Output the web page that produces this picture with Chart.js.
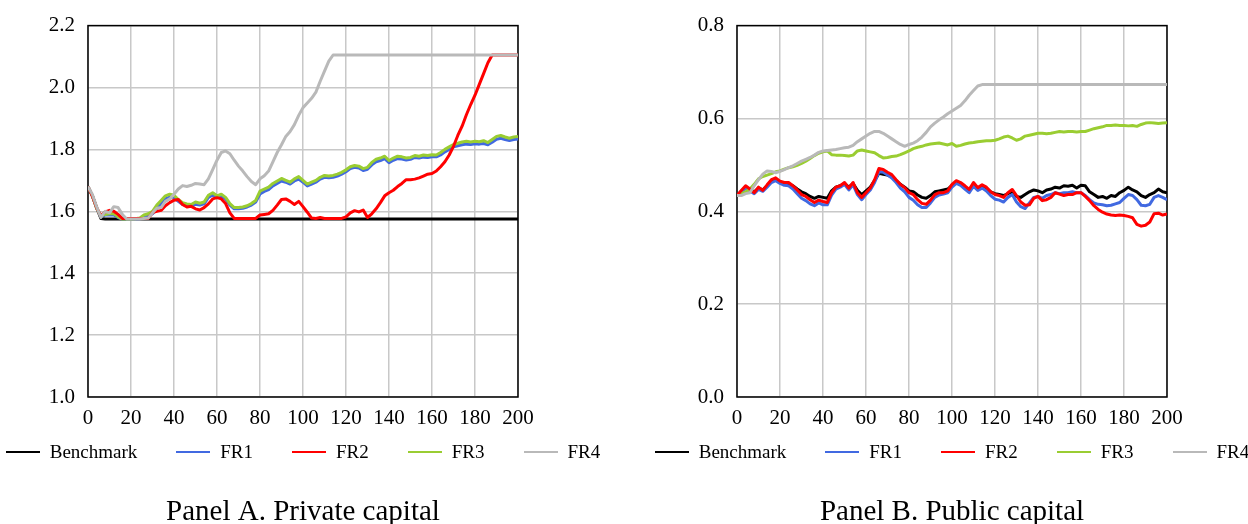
<!DOCTYPE html>
<html>
<head>
<meta charset="utf-8">
<title>Private and public capital</title>
<script src="https://cdn.jsdelivr.net/npm/chart.js@4.4.1/dist/chart.umd.min.js"></script>
<style>
    body { margin: 0; background: #fff; overflow: hidden; }
    .panel { position: absolute; top: 0; width: 624px; height: 524px; }
    #panelA { left: 0; }
    #panelB { left: 624px; }
    .legend {
        position: absolute; top: 441px; left: 0; margin: 0; padding: 0;
        list-style: none; display: flex; justify-content: center; gap: 39px;
        height: 22px; line-height: 22px;
        font-family: 'Liberation Serif', serif; font-size: 19px; color: #000;
    }
    #legendA { width: 606px; }
    #legendB { width: 656px; }
    .legend li { display: flex; align-items: center; white-space: nowrap; }
    .legend .swatch { display: inline-block; width: 34px; height: 2px; margin-right: 10px; }
</style>
</head>
<body>
<div class="panel" id="panelA">
    <canvas id="privateChart" width="624" height="524"></canvas>
    <ul class="legend" id="legendA"></ul>
</div>
<div class="panel" id="panelB">
    <canvas id="publicChart" width="624" height="524"></canvas>
    <ul class="legend" id="legendB"></ul>
</div>
<script>
// periods 0..200, every second period
const steps = Array.from({ length: 101 }, (_, i) => i * 2);

const seriesNames = ['Benchmark', 'FR1', 'FR2', 'FR3', 'FR4'];
const seriesColors = ['#000000', '#4169e1', '#ff0000', '#9acd32', '#b9b9b9'];
// lower order is drawn on top
const drawOrder = [5, 4, 2, 3, 1];

const privateTicks = [1.0, 1.2, 1.4, 1.6, 1.8, 2.0, 2.2];
const publicTicks = [0.0, 0.2, 0.4, 0.6, 0.8];

// Panel A. Private capital
const privBenchmark = [
    1.680, 1.650, 1.612, 1.577, 1.575, 1.575, 1.575, 1.575, 1.575, 1.575,
    1.575, 1.575, 1.575, 1.575, 1.575, 1.575, 1.575, 1.575, 1.575, 1.575,
    1.575, 1.575, 1.575, 1.575, 1.575, 1.575, 1.575, 1.575, 1.575, 1.575,
    1.575, 1.575, 1.575, 1.575, 1.575, 1.575, 1.575, 1.575, 1.575, 1.575,
    1.575, 1.575, 1.575, 1.575, 1.575, 1.575, 1.575, 1.575, 1.575, 1.575,
    1.575, 1.575, 1.575, 1.575, 1.575, 1.575, 1.575, 1.575, 1.575, 1.575,
    1.575, 1.575, 1.575, 1.575, 1.575, 1.575, 1.575, 1.575, 1.575, 1.575,
    1.575, 1.575, 1.575, 1.575, 1.575, 1.575, 1.575, 1.575, 1.575, 1.575,
    1.575, 1.575, 1.575, 1.575, 1.575, 1.575, 1.575, 1.575, 1.575, 1.575,
    1.575, 1.575, 1.575, 1.575, 1.575, 1.575, 1.575, 1.575, 1.575, 1.575,
    1.575
];
const privFR1 = [
    1.680, 1.650, 1.610, 1.583, 1.588, 1.588, 1.588, 1.580, 1.575, 1.575,
    1.575, 1.575, 1.576, 1.580, 1.585, 1.592, 1.610, 1.625, 1.640, 1.646,
    1.645, 1.632, 1.622, 1.618, 1.616, 1.623, 1.620, 1.624, 1.645, 1.653,
    1.644, 1.648, 1.640, 1.620, 1.608, 1.608, 1.610, 1.614, 1.620, 1.630,
    1.656, 1.664, 1.670, 1.682, 1.690, 1.698, 1.694, 1.688, 1.698, 1.704,
    1.694, 1.682, 1.688, 1.694, 1.704, 1.710, 1.708, 1.710, 1.714, 1.720,
    1.728, 1.738, 1.742, 1.740, 1.732, 1.736, 1.750, 1.760, 1.764, 1.770,
    1.757, 1.765, 1.770, 1.769, 1.766, 1.768, 1.774, 1.772, 1.775, 1.774,
    1.776, 1.776, 1.782, 1.792, 1.800, 1.808, 1.812, 1.815, 1.817, 1.816,
    1.818, 1.817, 1.819, 1.815, 1.823, 1.833, 1.836, 1.832, 1.829, 1.832,
    1.834
];
const privFR2 = [
    1.680, 1.650, 1.612, 1.585, 1.598, 1.603, 1.600, 1.590, 1.577, 1.577,
    1.577, 1.577, 1.577, 1.577, 1.577, 1.596, 1.600, 1.603, 1.618, 1.628,
    1.636, 1.638, 1.622, 1.614, 1.616, 1.608, 1.604, 1.612, 1.624, 1.640,
    1.644, 1.640, 1.625, 1.595, 1.577, 1.577, 1.577, 1.577, 1.577, 1.577,
    1.588, 1.590, 1.592, 1.603, 1.620, 1.638, 1.640, 1.632, 1.622, 1.632,
    1.615, 1.597, 1.578, 1.577, 1.580, 1.577, 1.577, 1.577, 1.577, 1.577,
    1.582, 1.595, 1.602, 1.598, 1.604, 1.580, 1.592, 1.608, 1.628, 1.650,
    1.660, 1.668, 1.680, 1.690, 1.702, 1.702, 1.704, 1.708, 1.714, 1.720,
    1.722, 1.730, 1.744, 1.760, 1.782, 1.810, 1.845, 1.875, 1.912, 1.945,
    1.975, 2.010, 2.045, 2.080, 2.105, 2.105, 2.105, 2.105, 2.105, 2.105,
    2.105
];
const privFR3 = [
    1.680, 1.650, 1.610, 1.585, 1.590, 1.592, 1.592, 1.582, 1.575, 1.575,
    1.575, 1.576, 1.578, 1.588, 1.592, 1.600, 1.620, 1.635, 1.650, 1.655,
    1.652, 1.638, 1.628, 1.624, 1.622, 1.630, 1.626, 1.630, 1.652, 1.660,
    1.650, 1.655, 1.645, 1.625, 1.612, 1.612, 1.614, 1.618, 1.625, 1.635,
    1.665, 1.672, 1.678, 1.690, 1.698, 1.706, 1.700, 1.694, 1.705, 1.712,
    1.700, 1.688, 1.694, 1.700, 1.710, 1.716, 1.714, 1.716, 1.720, 1.726,
    1.734, 1.744, 1.748, 1.746, 1.738, 1.742, 1.758, 1.768, 1.772, 1.778,
    1.764, 1.772, 1.778, 1.776, 1.772, 1.774, 1.780, 1.778, 1.782, 1.780,
    1.783, 1.782, 1.790, 1.800, 1.808, 1.816, 1.820, 1.824, 1.826, 1.824,
    1.826, 1.825, 1.828, 1.822, 1.832, 1.842, 1.845, 1.840, 1.836, 1.840,
    1.842
];
const privFR4 = [
    1.680, 1.655, 1.615, 1.580, 1.600, 1.595, 1.615, 1.612, 1.590, 1.575,
    1.575, 1.575, 1.575, 1.577, 1.578, 1.595, 1.610, 1.612, 1.632, 1.640,
    1.655, 1.672, 1.683, 1.680, 1.684, 1.690, 1.688, 1.686, 1.705, 1.735,
    1.765, 1.790, 1.795, 1.786, 1.765, 1.746, 1.730, 1.712, 1.696, 1.686,
    1.705, 1.715, 1.730, 1.760, 1.790, 1.815, 1.842, 1.858, 1.880, 1.910,
    1.935, 1.950, 1.965, 1.985, 2.020, 2.053, 2.085, 2.105, 2.105, 2.105,
    2.105, 2.105, 2.105, 2.105, 2.105, 2.105, 2.105, 2.105, 2.105, 2.105,
    2.105, 2.105, 2.105, 2.105, 2.105, 2.105, 2.105, 2.105, 2.105, 2.105,
    2.105, 2.105, 2.105, 2.105, 2.105, 2.105, 2.105, 2.105, 2.105, 2.105,
    2.105, 2.105, 2.105, 2.105, 2.105, 2.105, 2.105, 2.105, 2.105, 2.105,
    2.105
];

// Panel B. Public capital
const pubBenchmark = [
    0.434, 0.443, 0.452, 0.447, 0.442, 0.450, 0.446, 0.455, 0.464, 0.468,
    0.463, 0.460, 0.460, 0.455, 0.448, 0.442, 0.438, 0.432, 0.428, 0.432,
    0.430, 0.428, 0.444, 0.452, 0.455, 0.460, 0.452, 0.460, 0.445, 0.436,
    0.444, 0.452, 0.466, 0.482, 0.480, 0.478, 0.474, 0.466, 0.458, 0.452,
    0.444, 0.442, 0.435, 0.430, 0.428, 0.434, 0.442, 0.444, 0.446, 0.448,
    0.456, 0.462, 0.458, 0.452, 0.446, 0.458, 0.450, 0.455, 0.450, 0.442,
    0.438, 0.436, 0.434, 0.438, 0.442, 0.432, 0.430, 0.436, 0.442, 0.446,
    0.444, 0.440, 0.446, 0.448, 0.452, 0.450, 0.455, 0.454, 0.456, 0.450,
    0.456, 0.455, 0.442, 0.436, 0.430, 0.432, 0.428, 0.434, 0.432, 0.440,
    0.445, 0.452, 0.446, 0.442, 0.434, 0.430, 0.436, 0.440, 0.448, 0.442,
    0.440
];
const pubFR1 = [
    0.434, 0.442, 0.450, 0.444, 0.438, 0.447, 0.443, 0.452, 0.462, 0.466,
    0.460, 0.456, 0.455, 0.448, 0.438, 0.428, 0.423, 0.416, 0.412, 0.418,
    0.414, 0.414, 0.435, 0.448, 0.452, 0.458, 0.446, 0.457, 0.436, 0.425,
    0.436, 0.446, 0.462, 0.485, 0.484, 0.478, 0.472, 0.462, 0.450, 0.442,
    0.430, 0.424, 0.414, 0.408, 0.408, 0.418, 0.430, 0.435, 0.437, 0.440,
    0.452, 0.460, 0.456, 0.448, 0.440, 0.454, 0.445, 0.450, 0.444, 0.434,
    0.426, 0.424, 0.420, 0.430, 0.436, 0.420, 0.410, 0.406, 0.418, 0.430,
    0.432, 0.428, 0.434, 0.436, 0.440, 0.438, 0.440, 0.440, 0.442, 0.440,
    0.440, 0.434, 0.425, 0.418, 0.415, 0.414, 0.412, 0.413, 0.416, 0.419,
    0.428, 0.436, 0.434, 0.425, 0.413, 0.412, 0.415, 0.430, 0.434, 0.430,
    0.425
];
const pubFR2 = [
    0.434, 0.445, 0.455, 0.448, 0.440, 0.452, 0.445, 0.457, 0.468, 0.472,
    0.465, 0.462, 0.462, 0.455, 0.446, 0.436, 0.432, 0.425, 0.419, 0.424,
    0.421, 0.419, 0.440, 0.452, 0.455, 0.462, 0.450, 0.462, 0.440, 0.430,
    0.440, 0.450, 0.468, 0.492, 0.490, 0.484, 0.479, 0.468, 0.458, 0.451,
    0.440, 0.436, 0.425, 0.417, 0.415, 0.424, 0.436, 0.440, 0.440, 0.444,
    0.458, 0.466, 0.462, 0.455, 0.447, 0.462, 0.451, 0.457, 0.452, 0.442,
    0.436, 0.434, 0.430, 0.440, 0.447, 0.434, 0.420, 0.413, 0.414, 0.428,
    0.432, 0.423, 0.425, 0.430, 0.440, 0.437, 0.434, 0.436, 0.436, 0.440,
    0.440, 0.432, 0.423, 0.412, 0.404, 0.398, 0.394, 0.392, 0.391, 0.392,
    0.391, 0.389, 0.386, 0.372, 0.368, 0.370, 0.377, 0.395, 0.396, 0.392,
    0.394
];
const pubFR3 = [
    0.434, 0.438, 0.442, 0.448, 0.458, 0.470, 0.475, 0.478, 0.481, 0.485,
    0.487, 0.491, 0.494, 0.496, 0.499, 0.503, 0.508, 0.514, 0.520, 0.525,
    0.528, 0.530, 0.522, 0.521, 0.521, 0.520, 0.519, 0.521, 0.530, 0.532,
    0.530, 0.528, 0.526, 0.520, 0.515, 0.516, 0.518, 0.519, 0.522, 0.526,
    0.530, 0.535, 0.538, 0.540, 0.543, 0.545, 0.546, 0.547, 0.545, 0.543,
    0.546, 0.540, 0.542, 0.545, 0.547, 0.548, 0.550, 0.551, 0.552, 0.552,
    0.553, 0.556, 0.560, 0.562, 0.558, 0.553, 0.556, 0.562, 0.564, 0.566,
    0.568, 0.568, 0.567, 0.568, 0.570, 0.572, 0.571, 0.572, 0.572, 0.571,
    0.572, 0.572, 0.575, 0.578, 0.580, 0.582, 0.585, 0.585, 0.586, 0.585,
    0.585, 0.584, 0.585, 0.583, 0.587, 0.590, 0.591, 0.590, 0.589, 0.590,
    0.591
];
const pubFR4 = [
    0.434, 0.434, 0.438, 0.440, 0.455, 0.468, 0.480, 0.487, 0.486, 0.483,
    0.486, 0.490, 0.494, 0.498, 0.503, 0.508, 0.512, 0.516, 0.521, 0.527,
    0.530, 0.531, 0.532, 0.533, 0.535, 0.537, 0.538, 0.542, 0.550, 0.556,
    0.562, 0.568, 0.572, 0.572, 0.568, 0.562, 0.556, 0.550, 0.544, 0.540,
    0.544, 0.547, 0.552, 0.560, 0.570, 0.582, 0.590, 0.597, 0.603, 0.610,
    0.616, 0.622, 0.628, 0.638, 0.650, 0.660, 0.670, 0.673, 0.673, 0.673,
    0.673, 0.673, 0.673, 0.673, 0.673, 0.673, 0.673, 0.673, 0.673, 0.673,
    0.673, 0.673, 0.673, 0.673, 0.673, 0.673, 0.673, 0.673, 0.673, 0.673,
    0.673, 0.673, 0.673, 0.673, 0.673, 0.673, 0.673, 0.673, 0.673, 0.673,
    0.673, 0.673, 0.673, 0.673, 0.673, 0.673, 0.673, 0.673, 0.673, 0.673,
    0.673
];

const serif = "'Liberation Serif', 'Times New Roman', serif";

// box around the plot area (Chart.js only draws the axis sides)
const plotFrame = {
    id: 'plotFrame',
    beforeDatasetsDraw(chart) {
        const { ctx, chartArea } = chart;
        ctx.save();
        ctx.strokeStyle = '#000';
        ctx.lineWidth = 1.5;
        ctx.strokeRect(chartArea.left, chartArea.top, chartArea.right - chartArea.left, chartArea.bottom - chartArea.top);
        ctx.restore();
    }
};

// legend as a list under the canvas, built from the datasets
const htmlLegend = {
    id: 'htmlLegend',
    afterUpdate(chart, args, options) {
        const list = document.getElementById(options.containerID);
        list.innerHTML = '';
        chart.data.datasets.forEach(ds => {
            const item = document.createElement('li');
            const swatch = document.createElement('span');
            swatch.className = 'swatch';
            swatch.style.background = ds.borderColor;
            const text = document.createElement('span');
            text.textContent = ds.label;
            item.append(swatch, text);
            list.appendChild(item);
        });
    }
};

function buildDatasets(values) {
    return values.map((data, i) => ({
        label: seriesNames[i],
        data: data,
        borderColor: seriesColors[i],
        backgroundColor: seriesColors[i],
        borderWidth: 3,
        pointRadius: 0,
        tension: 0,
        borderJoinStyle: 'round',
        order: drawOrder[i]
    }));
}

function makeChart(canvasId, legendId, values, ticks, axisWidth, rightPad, title) {
    const ctx = document.getElementById(canvasId).getContext('2d');
    return new Chart(ctx, {
        type: 'line',
        data: { labels: steps, datasets: buildDatasets(values) },
        plugins: [plotFrame, htmlLegend],
        options: {
            responsive: false,
            animation: false,
            layout: { padding: { left: 0, top: 21, right: rightPad, bottom: 0 } },
            plugins: {
                legend: { display: false },
                tooltip: { enabled: false },
                htmlLegend: { containerID: legendId },
                title: {
                    display: true,
                    text: title,
                    position: 'bottom',
                    fullSize: false,
                    color: '#000',
                    font: { family: serif, size: 29, weight: 'normal', lineHeight: 0.8 },
                    padding: { top: 63.8, bottom: 0 }
                }
            },
            scales: {
                x: {
                    type: 'linear',
                    min: 0,
                    max: 200,
                    grid: { color: '#c8c8c8', lineWidth: 1.5, drawTicks: false },
                    border: { display: false },
                    ticks: {
                        stepSize: 20,
                        padding: 9,
                        color: '#000',
                        maxRotation: 0,
                        font: { family: serif, size: 21 }
                    },
                    afterFit: s => { s.height = 40; }
                },
                y: {
                    min: ticks[0],
                    max: ticks[ticks.length - 1],
                    grid: { color: '#c8c8c8', lineWidth: 1.5, drawTicks: false },
                    border: { display: false },
                    afterBuildTicks: s => { s.ticks = ticks.map(v => ({ value: v })); },
                    ticks: {
                        padding: 13,
                        color: '#000',
                        font: { family: serif, size: 21 },
                        callback: v => v.toFixed(1)
                    },
                    afterFit: s => { s.width = axisWidth; }
                }
            }
        }
    });
}

makeChart('privateChart', 'legendA',
    [privBenchmark, privFR1, privFR2, privFR3, privFR4],
    privateTicks, 88, 106, 'Panel A. Private capital');

makeChart('publicChart', 'legendB',
    [pubBenchmark, pubFR1, pubFR2, pubFR3, pubFR4],
    publicTicks, 113, 81, 'Panel B. Public capital');
</script>
</body>
</html>
